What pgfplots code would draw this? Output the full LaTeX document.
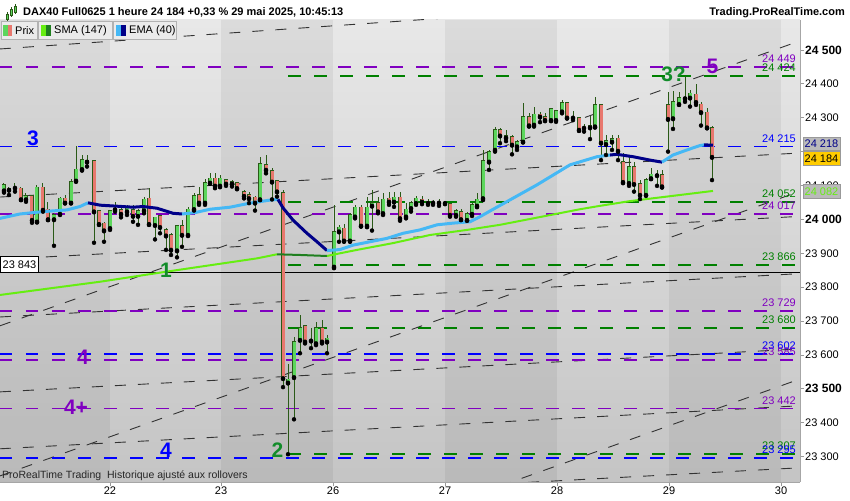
\documentclass[border=0pt]{standalone}
\usepackage{pgfplots}
\pgfplotsset{compat=1.18}
\usepackage{pgfplotstable}
\usepackage{fontspec}
\setmainfont{Liberation Sans}

\definecolor{upfill}{HTML}{5CD65C}
\definecolor{dnfill}{HTML}{E8786E}
\definecolor{cedge}{HTML}{2A5A17}
\definecolor{hblue}{HTML}{0000FF}
\definecolor{hpurple}{HTML}{8000C0}
\definecolor{hgreen}{HTML}{008000}
\definecolor{wavegreen}{HTML}{128C2A}
\definecolor{emalight}{HTML}{45B8F5}
\definecolor{emadark}{HTML}{000088}
\definecolor{smalight}{HTML}{66EE11}
\definecolor{smadark}{HTML}{1F7F1F}
\definecolor{boxyellow}{HTML}{FFCC00}

\newcommand{\fs}[1]{\fontsize{#1}{#1}\selectfont}

% hourly candles, x = position on the time axis, O H L C
\pgfplotstableread{
x O H L C
4 24085 24108 24079 24101
15 24093 24107 24082 24094
26 24059 24077 24052 24069
37 23993 24102 23992 24095
54 24000 24018 23922 24013
60 24016 24067 24013 24062
71 24049 24118 24048 24111
76 24114 24217 24111 24148
82 24148 24190 24144 24175
87 24170 24190 24156 24172
110 23974 24028 23969 24025
115 24029 24052 24023 24031
127 24023 24043 24013 24033
138 24010 24030 23984 24026
144 24026 24067 24018 24059
155 23983 24008 23941 24006
177 23908 23984 23888 23981
188 23954 24037 23951 24030
194 24030 24079 24026 24069
205 24049 24118 24043 24108
210 24108 24136 24105 24121
220 24099 24131 24095 24121
260 24059 24183 24057 24164
288 23518 23573 23307 23528
294 23534 23654 23410 23639
300 23644 23718 23605 23679
311 23642 23679 23620 23643
316 23634 23698 23629 23679
327 23639 23659 23605 23649
334 23860 24043 23856 23964
339 23964 23984 23934 23977
350 23937 24018 23934 24013
355 24008 24043 24003 24036
367 23981 24067 23977 24036
372 24040 24087 23967 24049
383 24018 24079 24013 24059
394 24052 24082 24037 24065
406 24008 24049 24003 24030
411 24033 24055 24023 24049
416 24048 24069 24043 24062
433 24049 24057 24043 24050
439 24049 24059 24040 24050
445 24048 24055 24045 24050
456 24013 24030 24008 24026
467 23998 24023 23996 24016
472 24016 24049 24010 24043
477 24040 24077 24036 24059
483 24062 24205 24057 24172
489 24170 24205 24146 24200
495 24205 24274 24200 24264
506 24241 24264 24231 24247
517 24215 24234 24205 24229
523 24229 24343 24228 24303
534 24279 24333 24274 24310
551 24293 24329 24290 24326
556 24293 24323 24288 24320
562 24318 24352 24313 24343
573 24300 24320 24293 24301
584 24270 24281 24259 24271
590 24271 24306 24237 24277
595 24274 24362 24271 24338
606 24222 24249 24190 24231
612 24229 24249 24205 24237
629 24107 24190 24099 24156
646 24072 24123 24070 24116
651 24121 24151 24119 24133
657 24130 24146 24099 24132
673 24298 24379 24267 24346
679 24340 24377 24338 24359
685 24357 24424 24347 24358
690 24359 24382 24333 24372
}\upbars

\pgfplotstableread{
x O H L C
9 24092 24097 24072 24087
21 24092 24097 24057 24059
32 24069 24072 23990 23998
43 24095 24108 24023 24028
48 24030 24052 23998 24000
65 24062 24072 24048 24049
94 24172 24175 23931 24023
99 24026 24028 23984 23986
104 23988 23993 23934 23967
121 24028 24038 24006 24016
133 24028 24043 23993 24010
149 24062 24092 23984 23986
160 24010 24013 23959 23977
166 23969 23974 23910 23952
171 23954 23959 23895 23910
182 23981 23998 23919 23954
199 24072 24095 24043 24049
215 24121 24138 24092 24099
226 24116 24118 24099 24105
232 24111 24116 24097 24105
237 24108 24111 24089 24092
244 24082 24087 24062 24069
249 24072 24082 24048 24062
255 24065 24069 24026 24049
266 24161 24190 24136 24146
272 24144 24151 24059 24111
277 24114 24116 24067 24082
283 24079 24087 23505 23531
305 23685 23688 23634 23639
322 23679 23703 23634 23639
344 23974 23987 23934 23937
361 24036 24043 23979 23981
378 24049 24067 24018 24023
389 24062 24082 24043 24052
400 24065 24082 23996 24003
422 24059 24069 24045 24052
428 24052 24059 24043 24048
450 24045 24048 24008 24013
461 24023 24030 23998 24000
500 24264 24271 24225 24247
512 24244 24249 24192 24220
529 24303 24313 24274 24277
540 24310 24316 24287 24303
545 24303 24313 24290 24293
567 24343 24346 24298 24300
579 24300 24303 24261 24264
601 24338 24341 24175 24226
618 24239 24249 24175 24202
623 24169 24195 24107 24110
634 24156 24170 24082 24104
640 24104 24116 24060 24072
662 24131 24146 24094 24097
668 24338 24377 24200 24296
696 24369 24399 24338 24346
701 24340 24346 24277 24316
707 24316 24328 24269 24271
712 24271 24277 24116 24184
}\downbars

\pgfplotsset{
  hline/.style={line width=1.8pt, dash pattern=on 12.5pt off 13.5pt},
  chan/.style={line width=0.9pt, draw=black!80, dash pattern=on 11pt off 12pt},
  candlepart/.style 2 args={only marks, mark=none, forget plot,
    error bars/.cd, y dir=plus, y explicit, error mark=none,
    error bar style={draw=#1, line width=#2, solid}},
}
\tikzset{
  vlabel/.style={anchor=south east, inner sep=0pt, yshift=4pt, font=\fs{11}},
}

\begin{document}
\begin{tikzpicture}
\useasboundingbox (0,0) rectangle (850pt,500pt);
\fill[white] (0,0) rectangle (850pt,500pt);
\begin{axis}[
  at={(0pt,18pt)}, anchor=south west,
  scale only axis, width=800pt, height=462pt,
  xmin=0, xmax=800, ymin=23225, ymax=24588.5,
  scaled x ticks=false, scaled y ticks=false,
  axis x line*=bottom, axis y line*=right,
  axis line style={draw=black!35, line width=0.8pt},
  xtick={110,221,333,445,557,669,781},
  xticklabels={22,23,26,27,28,29,30},
  ytick={23300,23400,...,24500},
  yticklabels={23 300,23 400,{\fs{12}\bfseries 23 500},23 600,23 700,23 800,23 900,
    {\fs{12}\bfseries 24 000},24 100,24 200,24 300,24 400,{\fs{12}\bfseries 24 500}},
  tick align=outside, major tick length=4pt,
  tick style={draw=black!40, line width=0.8pt},
  ticklabel style={font=\fs{11}, text=black},
  yticklabel style={anchor=west, inner sep=0pt, xshift=1pt},
  xticklabel style={inner sep=0pt, yshift=-1pt},
  axis background/.style={top color=black!9, bottom color=black!23},
]
% alternating day bands
\fill[black, opacity=0.055] (axis cs:0,23225) rectangle (axis cs:110,24588.5);
\fill[black, opacity=0.055] (axis cs:221,23225) rectangle (axis cs:333,24588.5);
\fill[black, opacity=0.055] (axis cs:445,23225) rectangle (axis cs:557,24588.5);
\fill[black, opacity=0.055] (axis cs:669,23225) rectangle (axis cs:781,24588.5);

% channel lines
\addplot[chan] coordinates {(0,24503) (800,24667)};
\addplot[chan] coordinates {(0,24066) (800,24196)};
\addplot[chan] coordinates {(0,23882) (800,24009)};
\addplot[chan] coordinates {(0,23712) (800,23840)};
\addplot[chan] coordinates {(0,23491) (800,23618)};
\addplot[chan] coordinates {(0,23323) (800,23450)};
\addplot[chan] coordinates {(0,23140) (800,23267)};
\addplot[chan] coordinates {(0,23686) (800,24527)};
\addplot[chan] coordinates {(0,23243) (800,24083)};
\addplot[chan] coordinates {(500,23213) (800,23529)};

% previous close
\addplot[black, line width=0.9pt] coordinates {(0,23843) (800,23843)};

% horizontal levels
\addplot[hline, hpurple] coordinates {(0,24449) (800,24449)};
\addplot[hline, hgreen] coordinates {(288,24424) (800,24424)};
\addplot[hline, hblue] coordinates {(0,24215) (800,24215)};
\addplot[hline, hgreen] coordinates {(288,24052) (800,24052)};
\addplot[hline, hpurple] coordinates {(0,24017) (800,24017)};
\addplot[hline, hgreen] coordinates {(288,23866) (800,23866)};
\addplot[hline, hpurple] coordinates {(0,23729) (800,23729)};
\addplot[hline, hgreen] coordinates {(288,23680) (800,23680)};
\addplot[hline, hblue] coordinates {(0,23602) (800,23602)};
\addplot[hline, hpurple] coordinates {(0,23585) (800,23585)};
\addplot[hline, hpurple] coordinates {(0,23442) (800,23442)};
\addplot[hline, hgreen] coordinates {(288,23307) (800,23307)};
\addplot[hline, hblue] coordinates {(0,23295) (800,23295)};

% candles: wicks, outlines, bodies
\addplot[candlepart={cedge}{1pt}] table[x=x, y=L, y error plus expr=\thisrow{H}-\thisrow{L}] {\upbars};
\addplot[candlepart={cedge}{1pt}] table[x=x, y=L, y error plus expr=\thisrow{H}-\thisrow{L}] {\downbars};
\addplot[candlepart={cedge}{4.4pt}] table[x=x, y expr=\thisrow{O}-2, y error plus expr=\thisrow{C}-\thisrow{O}+4] {\upbars};
\addplot[candlepart={cedge}{4.4pt}] table[x=x, y expr=\thisrow{C}-2, y error plus expr=\thisrow{O}-\thisrow{C}+4] {\downbars};
\addplot[candlepart={upfill}{3pt}] table[x=x, y=O, y error plus expr=\thisrow{C}-\thisrow{O}] {\upbars};
\addplot[candlepart={dnfill}{3pt}] table[x=x, y=C, y error plus expr=\thisrow{O}-\thisrow{C}] {\downbars};

% SMA (147)
\addplot[smalight, line width=2pt, line join=round] coordinates {(0,23777) (100,23816) (167,23846) (257,23885) (277,23897)};
\addplot[smadark, line width=2pt, line join=round] coordinates {(277,23897) (300,23895) (327,23892)};
\addplot[smalight, line width=2pt, line join=round] coordinates {(327,23892) (340,23900) (357,23910) (393,23930) (430,23954) (467,23969) (500,23984) (580,24030) (600,24040) (630,24054) (713,24084)};

% EMA (40)
\addplot[emalight, line width=3pt, line join=round] coordinates {(0,24003) (20,24016) (43,24023) (67,24028) (80,24038) (88,24049)};
\addplot[emadark, line width=3pt, line join=round] coordinates {(88,24049) (100,24042) (133,24036) (143,24038) (157,24033) (173,24018) (182,24016)};
\addplot[emalight, line width=3pt, line join=round] coordinates {(182,24016) (195,24020) (210,24030) (230,24036) (250,24048) (270,24057) (278,24059)};
\addplot[emadark, line width=3pt, line join=round] coordinates {(278,24059) (283,24034) (293,23998) (307,23959) (317,23934) (327,23908)};
\addplot[emalight, line width=3pt, line join=round] coordinates {(327,23908) (340,23911) (353,23924) (370,23934) (387,23944) (403,23959) (420,23969) (437,23984) (453,23989) (470,23993) (480,24008) (492,24028) (537,24102) (570,24161) (597,24185) (610,24190)};
\addplot[emadark, line width=3pt, line join=round] coordinates {(610,24190) (617,24192) (633,24185) (650,24175) (662,24169)};
\addplot[emalight, line width=3pt, line join=round] coordinates {(662,24169) (673,24190) (687,24205) (700,24218) (704,24220)};
\addplot[emadark, line width=3pt, line join=round] coordinates {(704,24220) (713,24219)};

% level values
\node[vlabel, text=hpurple] at (axis cs:796,24449) {24 449};
\node[vlabel, text=hgreen] at (axis cs:796,24424) {24 424};
\node[vlabel, text=hblue] at (axis cs:796,24215) {24 215};
\node[vlabel, text=hgreen] at (axis cs:796,24052) {24 052};
\node[vlabel, text=hpurple] at (axis cs:796,24017) {24 017};
\node[vlabel, text=hgreen] at (axis cs:796,23866) {23 866};
\node[vlabel, text=hpurple] at (axis cs:796,23729) {23 729};
\node[vlabel, text=hgreen] at (axis cs:796,23680) {23 680};
\node[vlabel, text=hblue] at (axis cs:796,23602) {23 602};
\node[vlabel, text=hpurple] at (axis cs:796,23585) {23 585};
\node[vlabel, text=hpurple] at (axis cs:796,23442) {23 442};
\node[vlabel, text=hgreen] at (axis cs:796,23307) {23 307};
\node[vlabel, text=hblue] at (axis cs:796,23295) {23 295};
\end{axis}

\begin{scope}[x=1pt, y=1pt]
% header
\node[anchor=west, inner sep=0pt, font=\fs{11}\bfseries] at (23,487.5) {DAX40 Full0625 1 heure 24 184 +0,33 \% 29 mai 2025, 10:45:13};
\node[anchor=east, inner sep=0pt, font=\fs{11}\bfseries] at (845,487.5) {Trading.ProRealTime.com};
\draw[cedge, line width=0.8pt] (7,479) -- (7,488) (11,483) -- (11,493) (15,486) -- (15,496);
\filldraw[fill=upfill, draw=cedge, line width=0.5pt] (5.8,481) rectangle (8.2,486);
\filldraw[fill=upfill, draw=cedge, line width=0.5pt] (9.8,485) rectangle (12.2,491);
\filldraw[fill=upfill, draw=cedge, line width=0.5pt] (13.8,488) rectangle (16.2,494);

% legend
\filldraw[fill=black!8, draw=black!30] (1,460.7) rectangle (37,478.3);
\filldraw[fill=black!8, draw=black!30] (38,460.7) rectangle (112,478.3);
\filldraw[fill=black!8, draw=black!30] (113,460.7) rectangle (176,478.3);
\fill[upfill] (3,464) rectangle (7.5,475); \fill[dnfill] (7.5,464) rectangle (12,475);
\fill[smalight] (41,464) rectangle (46,475); \fill[smadark] (46,464) rectangle (51,475);
\fill[emalight] (116,464) rectangle (121,475); \fill[emadark] (121,464) rectangle (126,475);
\node[anchor=west, inner sep=0pt, font=\fs{11}] at (15,469.5) {Prix};
\node[anchor=west, inner sep=0pt, font=\fs{11}] at (54,469.5) {SMA (147)};
\node[anchor=west, inner sep=0pt, font=\fs{11}] at (129,469.5) {EMA (40)};

% price boxes on the scale
\filldraw[fill=black!27, draw=black!40] (803,350) rectangle (840,363);
\node[inner sep=0pt, text=emadark, font=\fs{11}] at (821.5,356.5) {24 218};
\filldraw[fill=boxyellow, draw=black!40] (803,335) rectangle (840,348.3);
\node[inner sep=0pt, text=black, font=\fs{11}] at (821.5,341.7) {24 184};
\filldraw[fill=black!27, draw=black!40] (803,301.7) rectangle (840,315.7);
\node[inner sep=0pt, text=smalight, font=\fs{11}] at (821.5,308.7) {24 082};
\filldraw[fill=white, draw=black, line width=0.7pt] (0.4,227.3) rectangle (38,243.3);
\node[inner sep=0pt, font=\fs{11}] at (19.5,235.3) {23 843};

% wave counts
\node[text=hblue, font=\fs{21}\bfseries] at (33,362) {3};
\node[text=wavegreen, font=\fs{21}\bfseries] at (166,229.5) {1};
\node[text=hpurple, font=\fs{21}\bfseries] at (83,142.5) {4};
\node[text=hpurple, font=\fs{21}\bfseries] at (76,92.5) {4+};
\node[text=hblue, font=\fs{21}\bfseries] at (166,50) {4};
\node[text=wavegreen, font=\fs{21}\bfseries] at (277.5,49.5) {2};
\node[text=wavegreen, font=\fs{21}\bfseries] at (673.5,426) {3?};
\node[text=hpurple, font=\fs{21}\bfseries] at (712.5,434) {5};

% footer
\node[anchor=west, inner sep=0pt, text=black!85, font=\fs{10.5}] at (2,24) {ProRealTime Trading\hspace{3pt} Historique ajusté aux rollovers};
\end{scope}
\end{tikzpicture}
\end{document}
